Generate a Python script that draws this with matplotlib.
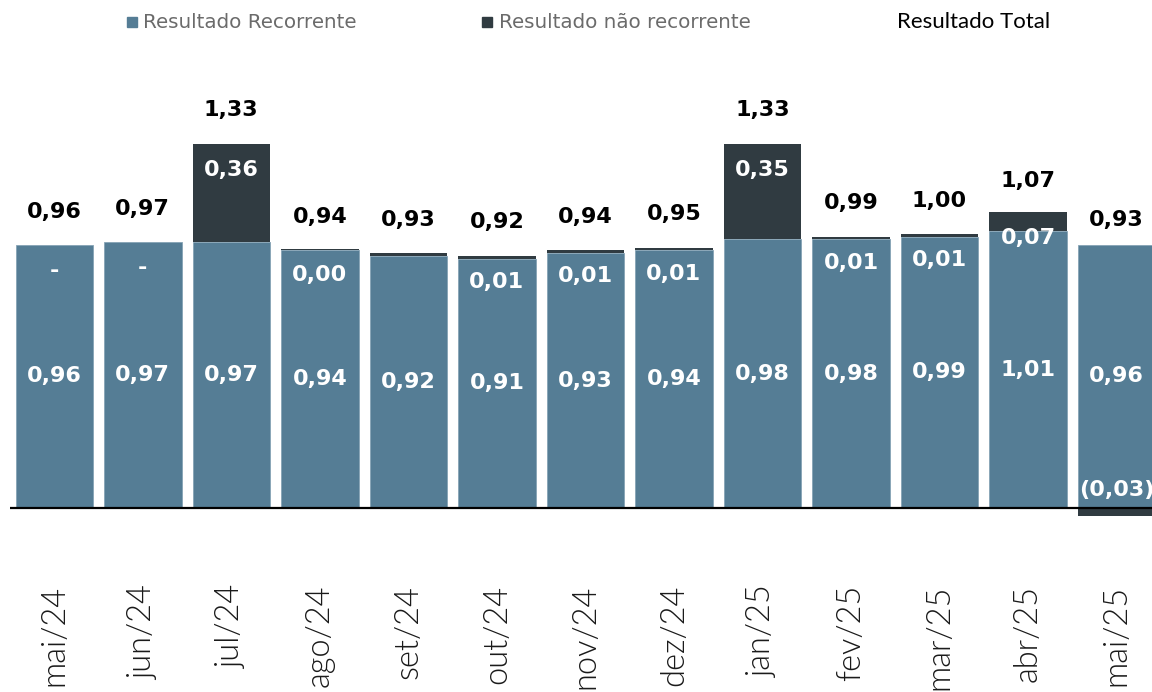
import matplotlib
matplotlib.use("Agg")
import matplotlib.pyplot as plt
from matplotlib.patches import Rectangle

meses = ["mai/24", "jun/24", "jul/24", "ago/24", "set/24", "out/24", "nov/24",
         "dez/24", "jan/25", "fev/25", "mar/25", "abr/25", "mai/25"]
recorrente = [0.96, 0.97, 0.97, 0.94, 0.92, 0.91, 0.93, 0.94, 0.98, 0.98, 0.99, 1.01, 0.96]
nao_recorrente = [0.0, 0.0, 0.36, 0.004, 0.01, 0.01, 0.01, 0.01, 0.35, 0.01, 0.01, 0.07, -0.03]
nr_rotulos = ["-", "-", "0,36", "0,00", "", "0,01", "0,01", "0,01", "0,35", "0,01", "0,01", "0,07", "(0,03)"]
total = [0.96, 0.97, 1.33, 0.94, 0.93, 0.92, 0.94, 0.95, 1.33, 0.99, 1.00, 1.07, 0.93]

c_rec = "#557D95"
c_nr = "#303B41"

W, H = 1152, 692
fig = plt.figure(figsize=(W / 100, H / 100), dpi=100)
# axes placed in pixels so the last bar runs off the right edge like the original
ax = fig.add_axes([10 / W, 117 / H, 1150.8 / W, (692 - 60 - 117) / H])
ax.set_xlim(-0.5, 12.5)
ax.set_ylim(-(184 - 117) / 274, (632 - 184) / 274)
for s in ax.spines.values():
    s.set_visible(False)
ax.set_yticks([])

x = list(range(len(meses)))
w = 0.875
ax.bar(x, recorrente, width=w, color=c_rec, edgecolor="#86a3b5", linewidth=0.6, zorder=2)
base = [r if n >= 0 else 0 for r, n in zip(recorrente, nao_recorrente)]
ax.bar(x, nao_recorrente, bottom=base, width=w, color=c_nr, linewidth=0, zorder=2)
ax.axhline(0, color="black", linewidth=1.6, zorder=3)

fmt = lambda v: f"{v:.2f}".replace(".", ",")
lab = dict(family="DejaVu Sans", fontweight="bold", fontsize=16, ha="center", va="center")
for i in x:
    ax.text(i, recorrente[i] / 2, fmt(recorrente[i]), color="white", zorder=4, **lab)
    ax.text(i, total[i] + 0.122, fmt(total[i]), color="black", zorder=4, **lab)
    n = nao_recorrente[i]
    top = recorrente[i] + max(n, 0)
    yl = top - 0.095 if n >= 0 else 0.065
    ax.text(i, yl, nr_rotulos[i], color="white", zorder=4, **lab)

ax.set_xticks(x)
ax.set_xticklabels(meses, rotation=90, family="Lato", fontweight=300,
                   fontsize=23.5, color="#1a1a1a")
ax.tick_params(axis="x", length=0, pad=7)

# legend drawn by hand
leg_y = 1 - 22 / H
for px, col in [(127, c_rec), (482, c_nr)]:
    fig.patches.append(Rectangle((px / W, 1 - 27 / H), 10 / W, 10 / H,
                                 transform=fig.transFigure, color=col))
fig.text(143 / W, leg_y, "Resultado Recorrente", family="DejaVu Sans", fontsize=14.3,
         color="#6b6b6b", va="center")
fig.text(499 / W, leg_y, "Resultado não recorrente", family="DejaVu Sans", fontsize=14.3,
         color="#6b6b6b", va="center")
fig.text(897 / W, leg_y, "Resultado Total", family="Lato", fontsize=16,
         color="black", va="center")

fig.savefig("out.png", dpi=100)
